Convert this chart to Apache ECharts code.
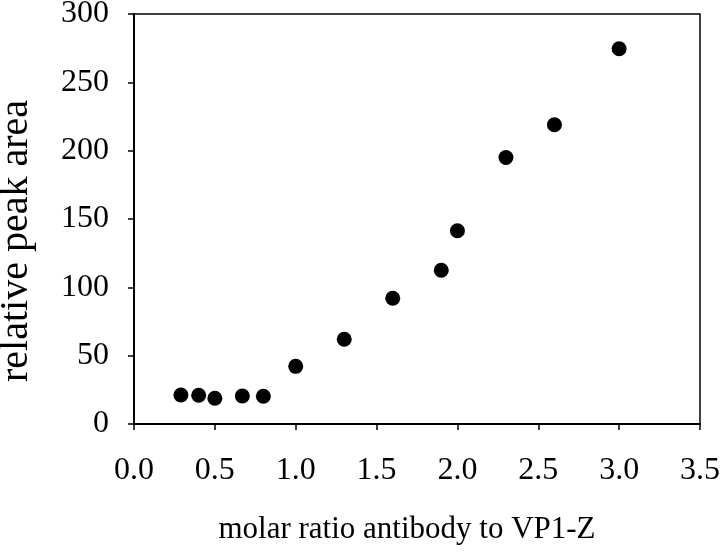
<!DOCTYPE html>
<html>
<head>
<meta charset="utf-8">
<script src="https://cdn.jsdelivr.net/npm/echarts@6/dist/echarts.min.js"></script>
<style>
html,body{margin:0;padding:0;background:#fff;}
#chart{width:720px;height:553px;}
</style>
</head>
<body>
<div id="chart"></div>
<script>
const xValues = [0.29, 0.4, 0.5, 0.67, 0.8, 1.0, 1.3, 1.6, 1.9, 2.0, 2.3, 2.6, 3.0];
const yValues = [21.2, 21.0, 18.8, 20.5, 20.3, 42.2, 62.0, 92.0, 112.5, 141.4, 195.0, 219.0, 274.6];
const xTitle = 'molar ratio antibody to VP1-Z';
const yTitle = 'relative peak area';

const points = xValues.map((x, i) => [x, yValues[i]]);
const font = 'Liberation Serif';

const chart = echarts.init(document.getElementById('chart'), null, {renderer: 'canvas'});
chart.setOption({
  animation: false,
  backgroundColor: '#fff',
  grid: {left: 134, right: 20, top: 14, bottom: 129, show: true, borderColor: '#000', borderWidth: 1.5, containLabel: false, outerBoundsMode: 'none'},
  xAxis: {
    type: 'value', min: 0, max: 3.5, interval: 0.5,
    name: xTitle, nameLocation: 'middle', nameGap: 90,
    nameTextStyle: {fontFamily: font, fontSize: 31, color: '#000', padding: [0, 20, 0, 0]},
    axisLine: {show: true, onZero: false, lineStyle: {color: '#000', width: 2}},
    axisTick: {show: true, inside: false, length: 6, lineStyle: {color: '#000', width: 1.5}},
    axisLabel: {fontFamily: font, fontSize: 32, color: '#000', margin: 31, formatter: v => v.toFixed(1)},
    splitLine: {show: false}
  },
  yAxis: {
    type: 'value', min: 0, max: 300, interval: 50,
    name: yTitle, nameLocation: 'middle', nameGap: 98,
    nameTextStyle: {fontFamily: font, fontSize: 40, color: '#000', padding: [0, 44, 0, 0]},
    axisLine: {show: true, onZero: false, lineStyle: {color: '#000', width: 2}},
    axisTick: {show: true, inside: false, length: 6, lineStyle: {color: '#000', width: 1.5}},
    axisLabel: {fontFamily: font, fontSize: 32, color: '#000', margin: 25},
    splitLine: {show: false}
  },
  series: [{
    type: 'scatter',
    data: points,
    symbol: 'circle',
    symbolSize: 15,
    itemStyle: {color: '#000', opacity: 1}
  }]
});
</script>
</body>
</html>
